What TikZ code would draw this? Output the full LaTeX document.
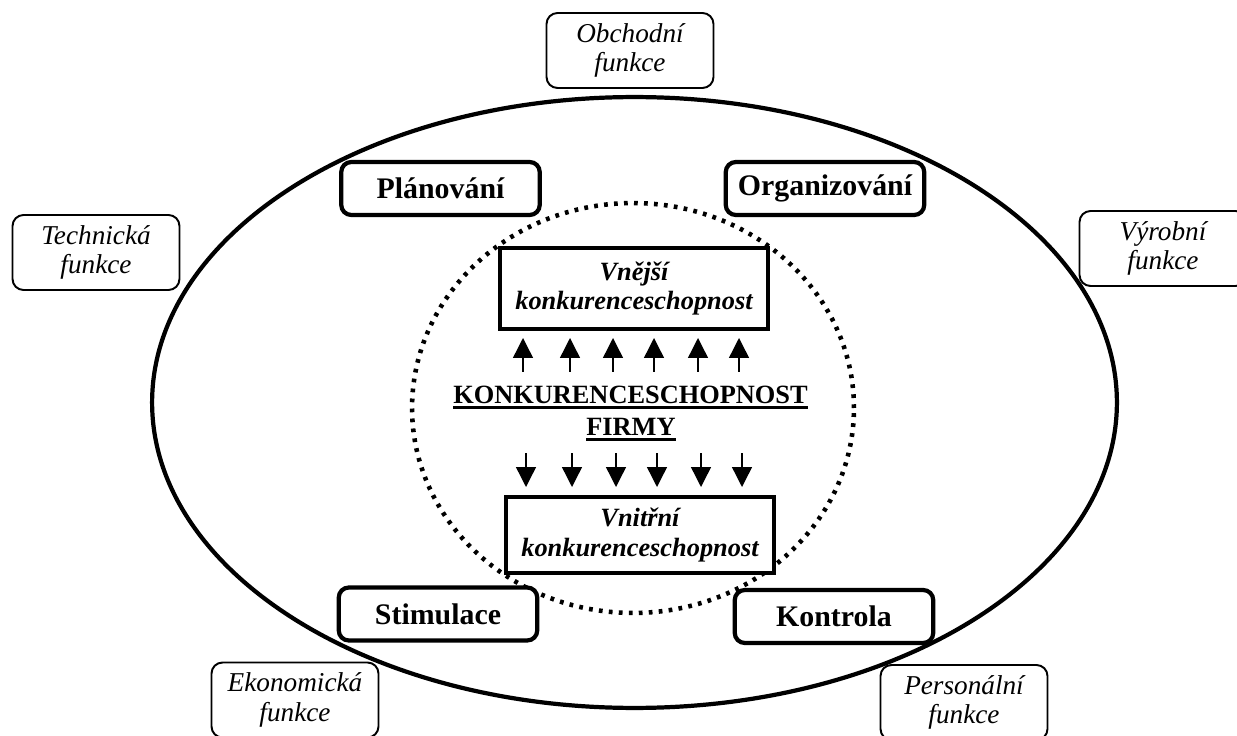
\documentclass[tikz,border=0pt]{standalone}
\usepackage{fontspec}
\setmainfont{Liberation Serif}
\usetikzlibrary{arrows.meta}
\newcommand{\podtrh}[1]{\setbox0\hbox{#1}\rlap{\rule[-3.4pt]{\wd0}{1.7pt}}\box0}

\begin{document}
\begin{tikzpicture}[x=0.02cm,y=-0.02cm,
    funkce/.style={draw,fill=white,line width=1.1pt,rounded corners=0.22cm,minimum width=3.34cm,minimum height=1.5cm,inner sep=0pt,align=center,font=\fontsize{15.5}{16.8}\selectfont\itshape},
    cinnost/.style={draw,fill=white,line width=2.4pt,rounded corners=0.2cm,minimum width=3.97cm,minimum height=1.06cm,inner sep=0pt,font=\fontsize{17}{20}\selectfont\bfseries},
    konk/.style={draw,fill=white,line width=2.4pt,minimum width=5.36cm,inner sep=0pt,align=center,font=\fontsize{15}{17}\selectfont\bfseries\itshape},
    titul/.style={anchor=base,inner sep=0pt,font=\fontsize{15}{17}\selectfont\bfseries},
    sipka/.style={line width=0.8pt,-{Triangle[length=0.4cm,width=0.4cm]}}]
    \useasboundingbox (0,0) rectangle (1237,736);
    % ellipse and dotted circle
    \draw [line width=2.4pt] (634.5,402.5) ellipse [x radius=9.65cm, y radius=6.11cm];
    \draw [line width=2.6pt,dash pattern=on 0.075cm off 0.125cm] (633,408) ellipse [x radius=4.42cm, y radius=4.1cm];
    % functions
    \node [funkce] (obchodni) at (630,50.5) {Obchodní\\funkce};
    \node [funkce] (technicka) at (96,252.5) {Technická\\funkce};
    \node [funkce] (vyrobni) at (1163,248.5) {Výrobní\\funkce};
    \node [funkce] (ekonomicka) at (295,700) {Ekonomická\\funkce};
    \node [funkce] (personalni) at (964,702.5) {Personální\\funkce};
    % management
    \node [cinnost] (planovani) at (440.5,188.5) {Plánování};
    \node [cinnost] (organizovani) at (825,188.5) {Organizování};
    \node [cinnost] (stimulace) at (438,614) {Stimulace};
    \node [cinnost] (kontrola) at (834,616.5) {Kontrola};
    % competitiveness
    \node [konk,minimum height=1.62cm] (vnejsi) at (634,288.5) {Vnější\\konkurenceschopnost};
    \node [konk,minimum height=1.52cm] (vnitrni) at (640,535) {Vnitřní\\konkurenceschopnost};
    \node [titul] (konkurence) at (630.5,403) {\podtrh{KONKURENCESCHOPNOST}};
    \node [titul] (firmy) at (631,435) {\podtrh{FIRMY}};
    \foreach \x [count=\i] in {523,570,613,654,698,739} {
        \coordinate (a\i) at (\x,372);
        \coordinate (b\i) at (\x,338);
        \draw [sipka] (a\i) -- (b\i);
    }
    \foreach \x [count=\i] in {526,572,616,657,701,742} {
        \coordinate (c\i) at (\x,453);
        \coordinate (d\i) at (\x,487);
        \draw [sipka] (c\i) -- (d\i);
    }
\end{tikzpicture}
\end{document}
